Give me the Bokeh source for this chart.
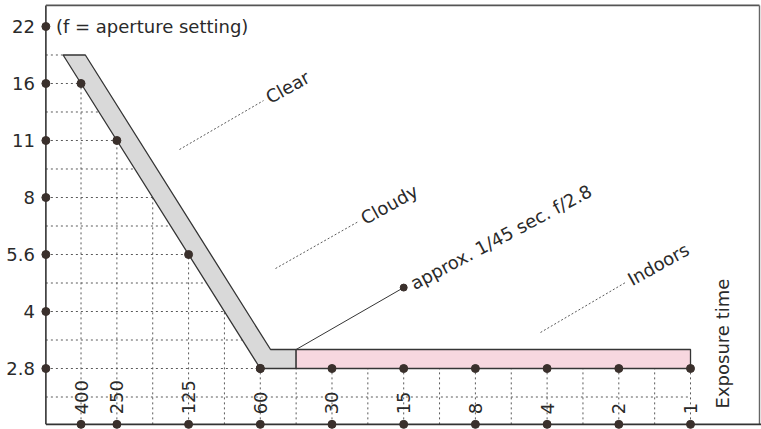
import math
from bokeh.plotting import figure
from bokeh.models import Range1d
from bokeh.embed import file_html
from bokeh.resources import INLINE
from bokeh.core.properties import value

# ---------------- data ----------------
# aperture scale (f-stops), equally spaced
f_labels = ["2.8", "4", "5.6", "8", "11", "16", "22"]
f_pos = [0, 1, 2, 3, 4, 5, 6]
# exposure time scale (1/x sec), in stops from 1 sec
t_labels = ["400", "250", "125", "60", "30", "15", "8", "4", "2", "1"]
t_pos = [8.5, 8, 7, 6, 5, 4, 3, 2, 1, 0]
# clear/cloudy curve: aperture vs exposure time
curve_f = ["16", "11", "5.6", "2.8"]
curve_t = ["400", "250", "125", "60"]
# indoor row at f/2.8
indoor_t = ["60", "30", "15", "8", "4", "2", "1"]
# band parameters (in stops)
band_top_f = 5.5        # top of the daylight band
band_width = 0.31       # horizontal thickness of the daylight band
bar_height = 1 / 3      # thickness of the f/2.8 bar
cut_t = 5.5             # approx. 1/45 sec.
approx_point = (4.0, 1.42)

FONT = "DejaVu Sans"
TXT = "#2a2a2a"
DOT = "#3a302c"
LINE = "#353535"

fpos = dict(zip(f_labels, f_pos))
tpos = dict(zip(t_labels, t_pos))

# slope of the curve's left edge (t-stops per f-stop), from the data
t0 = tpos[curve_t[-1]]
f0 = fpos[curve_f[-1]]
slope = (tpos[curve_t[0]] - t0) / (fpos[curve_f[0]] - f0)


def edge(k):
    return t0 + slope * (k - f0)


# ---------------- figure ----------------
X_LEFT, X_RIGHT = 9.623, -0.990
Y_BOT, Y_TOP = -1.070, 6.456
AX_X = 8.99
TOP_Y = 6.37
RIGHT_X = -0.962
BOT_Y = -0.98

p = figure(width=761, height=429, x_range=Range1d(X_LEFT, X_RIGHT),
           y_range=Range1d(Y_BOT, Y_TOP), output_backend="svg",
           toolbar_location=None, min_border=0)
p.axis.visible = False
p.grid.visible = False
p.outline_line_color = None
p.background_fill_color = "white"
p.border_fill_color = "white"

# ---- dotted grid (only below/left of the curve) ----
gx0, gy0, gx1, gy1 = [], [], [], []
k = -0.5
while k <= band_top_f + 1e-9:
    end = edge(k) if k >= 0 else min(t_pos)
    gx0.append(AX_X); gy0.append(k); gx1.append(end); gy1.append(k)
    k += 0.5
s = max(t_pos)
while s >= min(t_pos) - 1e-9:
    top = (s - t0) / slope + f0 if s >= t0 else 0
    gx0.append(s); gy0.append(BOT_Y); gx1.append(s); gy1.append(top)
    s -= 0.5
p.segment(x0=gx0, y0=gy0, x1=gx1, y1=gy1, line_color="#5a5a5a",
          line_width=1, line_dash="2 3")

# ---- daylight band (gray) ----
gray_x = [edge(band_top_f), edge(band_top_f) - band_width,
          edge(bar_height) - band_width, cut_t, cut_t, edge(0)]
gray_y = [band_top_f, band_top_f, bar_height, bar_height, 0, 0]
p.patch(gray_x, gray_y, fill_color="#d9d9d9", line_color=LINE, line_width=1.3)

# ---- indoor bar (pink) ----
pink_x = [cut_t, tpos[indoor_t[-1]], tpos[indoor_t[-1]], cut_t]
pink_y = [0, 0, bar_height, bar_height]
p.patch(pink_x, pink_y, fill_color="#f7d7df", line_color=LINE, line_width=1.3)

# ---- frame ----
p.line([AX_X, AX_X], [BOT_Y, TOP_Y], line_color="#333333", line_width=1.6)
p.line([AX_X, RIGHT_X], [TOP_Y, TOP_Y], line_color="#555555", line_width=1.6)
p.line([RIGHT_X, RIGHT_X], [TOP_Y, BOT_Y], line_color="#666666", line_width=1.4)
p.line([AX_X, X_RIGHT], [BOT_Y, BOT_Y], line_color="#333333", line_width=1.6)

# ---- leader to "approx." ----
p.line([cut_t, approx_point[0]], [bar_height, approx_point[1]],
       line_color=LINE, line_width=1)

# ---- dotted leaders for conditions ----
leaders = {
    "Clear": ((7.127, 3.842), (5.955, 4.70)),
    "Cloudy": ((5.788, 1.754), (4.630, 2.579)),
    "Indoors": ((2.092, 0.632), (0.907, 1.509)),
}
for name, ((xa, ya), (xb, yb)) in leaders.items():
    p.line([xa, xb], [ya, yb], line_color="#5a5a5a", line_width=1,
           line_dash="2 2")

# ---- dots ----
p.scatter([AX_X] * len(f_pos), f_pos, size=8, color=DOT)
p.scatter(t_pos, [BOT_Y] * len(t_pos), size=8, color=DOT)
p.scatter([tpos[t] for t in curve_t], [fpos[f] for f in curve_f], size=8, color=DOT)
p.scatter([tpos[t] for t in indoor_t], [0] * len(indoor_t), size=8, color=DOT)
p.scatter([approx_point[0]], [approx_point[1]], size=7, color=DOT)

# ---- texts ----
common = dict(text_font=value(FONT), text_color=TXT, text_font_size="18px")
p.text(x=[AX_X] * len(f_pos), y=f_pos, text=f_labels, x_offset=-11,
       text_align="right", text_baseline="middle", **common)
p.text(x=t_pos, y=[BOT_Y] * len(t_pos), text=t_labels, y_offset=-10,
       angle=math.pi / 2, text_align="left", text_baseline="middle", **common)
p.text(x=[AX_X], y=[f_pos[-1]], text=["(f = aperture setting)"], x_offset=10,
       text_align="left", text_baseline="middle", **common)

ang = math.radians(29)
for name, (_, (xb, yb)) in leaders.items():
    p.text(x=[xb], y=[yb], text=[name], angle=ang,
           x_offset=4 * math.cos(ang), y_offset=-4 * math.sin(ang),
           text_align="left", text_baseline="middle", **common)

p.text(x=[approx_point[0]], y=[approx_point[1]], text=["approx. 1/45 sec. f/2.8"],
       angle=math.radians(28), x_offset=8, y_offset=-3,
       text_align="left", text_baseline="middle", **common)

p.text(x=[-0.446], y=[-0.70], text=["Exposure time"], angle=math.pi / 2,
       text_align="left", text_baseline="middle", **common)

open("out.html", "w").write(file_html(p, INLINE))
